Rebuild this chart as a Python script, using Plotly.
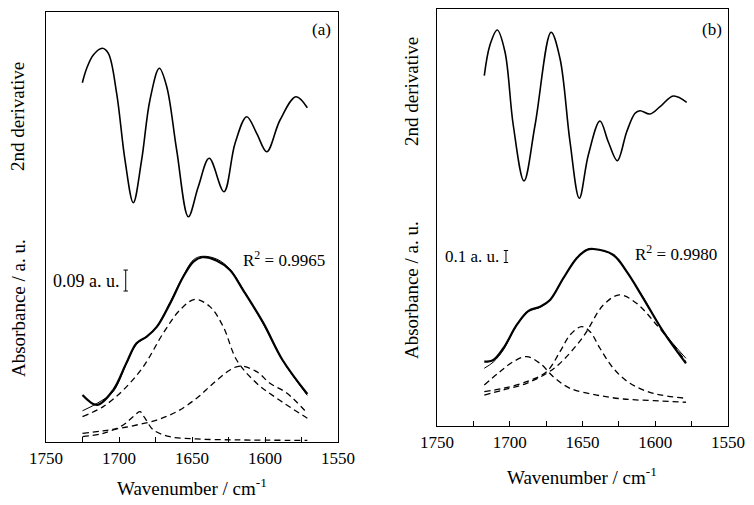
import plotly.graph_objects as go

# ---------------- Panel (a) ----------------
deriv_a_wn = [1725.1, 1722.1, 1717.6, 1711.4, 1707.3, 1701.6, 1695.9, 1690.2, 1684.5, 1678.8,
              1672.4, 1667.3, 1660.5, 1652.5, 1645.7, 1638.2, 1628.1, 1620.5, 1612.5, 1605.7,
              1598.8, 1589.7, 1578.8, 1571.0]
deriv_a = [0.423, 0.567, 0.700, 0.767, 0.717, 0.317, -0.350, -0.777, -0.350, 0.250,
           0.567, 0.383, -0.250, -0.917, -0.617, -0.333, -0.667, -0.183, 0.083, -0.083,
           -0.267, 0.050, 0.283, 0.173]

abs_a_wn = [1725, 1715, 1704, 1695, 1688, 1681, 1674, 1665, 1656, 1649, 1643, 1633, 1624,
            1615, 1601, 1588, 1571]
abs_a_meas = [0.202, 0.159, 0.223, 0.338, 0.424, 0.452, 0.495, 0.595, 0.709, 0.774, 0.793,
              0.778, 0.738, 0.652, 0.509, 0.352, 0.206]
abs_a_fit = [0.134, 0.166, 0.216, 0.335, 0.420, 0.452, 0.497, 0.600, 0.713, 0.782, 0.797,
             0.785, 0.742, 0.655, 0.505, 0.350, 0.200]

comp_a1_wn = [1725, 1710.8, 1697.1, 1683.4, 1669.7, 1658.2, 1648.0, 1637.7, 1628.6, 1619.4,
              1605.7, 1592.0, 1571.0]
comp_a1 = [0.109, 0.152, 0.223, 0.323, 0.467, 0.567, 0.612, 0.581, 0.495, 0.352,
           0.252, 0.188, 0.102]
comp_a2_wn = [1725, 1710.8, 1699.3, 1687.9, 1674.2, 1660.5, 1646.8, 1635.4, 1624.0, 1617.1,
              1605.7, 1596.6, 1585.1, 1571.0]
comp_a2 = [0.037, 0.048, 0.059, 0.073, 0.094, 0.130, 0.188, 0.252, 0.309, 0.326,
           0.302, 0.252, 0.210, 0.123]
comp_a3_wn = [1725, 1710.8, 1697.1, 1690.2, 1685.6, 1682.2, 1676.5, 1665.1, 1646.8, 1619.4, 1571.0]
comp_a3 = [0.023, 0.037, 0.073, 0.109, 0.130, 0.102, 0.052, 0.023, 0.013, 0.009, 0.007]

# ---------------- Panel (b) ----------------
deriv_b_wn = [1717.5, 1713.6, 1708.6, 1703.3, 1697.6, 1690.2, 1682.6, 1671.6, 1665.5, 1658.6,
              1652.2, 1646.0, 1638.0, 1632.3, 1626.1, 1619.6, 1613.9, 1610.5, 1603.6, 1596.7,
              1587.6, 1578.4]
deriv_b = [0.393, 0.700, 0.850, 0.633, -0.100, -0.660, -0.100, 0.827, 0.567, -0.267,
           -0.833, -0.400, -0.060, -0.267, -0.457, -0.167, 0.017, 0.043, 0.010, 0.083,
           0.190, 0.127]

abs_b_wn = [1717.5, 1711.3, 1704.4, 1695.2, 1687.3, 1679.2, 1672.3, 1663.2, 1654.0, 1647.1,
            1642.6, 1628.8, 1619.6, 1608.2, 1594.5, 1578.9]
abs_b_meas = [0.536, 0.550, 0.648, 0.842, 0.958, 0.994, 1.050, 1.231, 1.398, 1.467,
              1.475, 1.425, 1.286, 1.064, 0.786, 0.522]
abs_b_fit = [0.481, 0.533, 0.633, 0.840, 0.955, 0.990, 1.050, 1.232, 1.400, 1.470,
             1.476, 1.424, 1.283, 1.070, 0.790, 0.564]

comp_b1_wn = [1717.5, 1706.7, 1697.6, 1688.4, 1679.2, 1670.1, 1658.6, 1640.2, 1621.9, 1601.3, 1578.9]
comp_b1 = [0.342, 0.453, 0.536, 0.578, 0.522, 0.411, 0.314, 0.258, 0.225, 0.211, 0.198]
comp_b2_wn = [1717.5, 1704.4, 1688.4, 1674.6, 1665.5, 1658.6, 1650.6, 1644.8, 1638.0, 1628.8,
              1617.4, 1601.3, 1578.9]
comp_b2 = [0.286, 0.314, 0.369, 0.453, 0.619, 0.758, 0.828, 0.786, 0.648, 0.481,
           0.356, 0.272, 0.231]
comp_b3_wn = [1717.5, 1704.4, 1688.4, 1674.6, 1665.5, 1649.5, 1635.7, 1624.7, 1612.8, 1599.0,
              1587.6, 1578.9]
comp_b3 = [0.258, 0.300, 0.356, 0.439, 0.522, 0.744, 1.008, 1.092, 1.022, 0.842, 0.675, 0.536]

r2_a = "0.9965"
r2_b = "0.9980"
bar_a = 0.09
bar_b = 0.1
x_ticks = [1750, 1700, 1650, 1600, 1550]

FONT = "'Liberation Serif', 'Times New Roman', Times, serif"
W, H = 754, 505
OFF = 8  # page body margin offset compensation


def px(x):
    return (x - OFF) / W


def py(y):
    return (H - (y - OFF)) / H


fig = go.Figure()


def line(x, y, xa, ya, width, dash=None):
    fig.add_trace(go.Scatter(x=x, y=y, xaxis=xa, yaxis=ya, mode="lines",
                             line=dict(color="black", width=width, dash=dash, shape="spline",
                                       smoothing=1.0),
                             hoverinfo="skip", showlegend=False))


DASH = "6px,4px"
# panel a
line(deriv_a_wn, deriv_a, "x", "y3", 1.6)
line(comp_a1_wn, comp_a1, "x", "y", 1.3, DASH)
line(comp_a2_wn, comp_a2, "x", "y", 1.3, DASH)
line(comp_a3_wn, comp_a3, "x", "y", 1.3, DASH)
line(abs_a_wn, abs_a_fit, "x", "y", 1.0)
line(abs_a_wn, abs_a_meas, "x", "y", 2.2)
# panel b
line(deriv_b_wn, deriv_b, "x2", "y4", 1.6)
line(comp_b1_wn, comp_b1, "x2", "y2", 1.3, DASH)
line(comp_b2_wn, comp_b2, "x2", "y2", 1.3, DASH)
line(comp_b3_wn, comp_b3, "x2", "y2", 1.3, DASH)
line(abs_b_wn, abs_b_fit, "x2", "y2", 1.0)
line(abs_b_wn, abs_b_meas, "x2", "y2", 2.2)


def xax(domain, anchor):
    return dict(domain=domain, anchor=anchor, range=[1750, 1550], automargin=False,
                showline=True, linecolor="black", linewidth=1.4, mirror=True,
                showgrid=False, zeroline=False,
                tickvals=x_ticks, ticks="inside", ticklen=5, tickcolor="black", tickwidth=1,
                tickfont=dict(family=FONT, size=17, color="black"),
                minor=dict(dtick=25, tick0=1550, ticks="inside", ticklen=5,
                           tickcolor="black", tickwidth=1, showgrid=False))


def yframe(domain, anchor, rng):
    return dict(domain=domain, anchor=anchor, range=rng, showline=True, linecolor="black",
                linewidth=1.4, mirror=True, showgrid=False, zeroline=False, automargin=False,
                showticklabels=False, ticks="")


dom_ax = [px(46), px(338)]
dom_ay = [py(442), py(12)]
dom_bx = [px(437), px(728)]
dom_by = [py(426), py(9)]

fig.update_layout(
    width=W, height=H, autosize=False,
    margin=dict(l=0, r=0, t=0, b=0, pad=0, autoexpand=False),
    paper_bgcolor="white", plot_bgcolor="white",
    font=dict(family=FONT, color="black"),
    xaxis=xax(dom_ax, "y"),
    xaxis2=xax(dom_bx, "y2"),
    yaxis=yframe(dom_ay, "x", [0, 430 / 233]),
    yaxis2=yframe(dom_by, "x2", [0, 417 / 120]),
    yaxis3=dict(overlaying="y", anchor="x", range=[-3.17, 1.13], visible=False, automargin=False),
    yaxis4=dict(overlaying="y2", anchor="x2", range=[-3.11, 1.06], visible=False, automargin=False),
)


def scale_bar(xr, yr, xv, y0, length, capw):
    fig.add_shape(type="line", xref=xr, yref=yr, x0=xv, x1=xv, y0=y0, y1=y0 + length,
                  line=dict(color="black", width=1))
    for yy in (y0, y0 + length):
        fig.add_shape(type="line", xref=xr, yref=yr, x0=xv - capw, x1=xv + capw, y0=yy, y1=yy,
                      line=dict(color="black", width=1))


scale_bar("x", "y", 1695.4, 0.648, bar_a, 1.5)
scale_bar("x2", "y2", 1702.6, 1.3625, bar_b, 1.5)


def ann(text, x, y, size=17, angle=0, xanchor="center"):
    fig.add_annotation(text=text, x=px(x), y=py(y), xref="paper", yref="paper",
                       showarrow=False, textangle=angle, xanchor=xanchor, yanchor="middle",
                       font=dict(family=FONT, size=size, color="black"))


ann("(a)", 321, 29)
ann("(b)", 712, 29)
ann("R<sup>2</sup> = " + r2_a, 284, 259)
ann("R<sup>2</sup> = " + r2_b, 676, 253)
ann(f"{bar_a:g} a. u.", 122, 281, size=18, xanchor="right")
ann(f"{bar_b:g} a. u.", 501, 256.5, size=17, xanchor="right")
ann("2nd derivative", 18, 117, size=19, angle=-90)
ann("Absorbance / a. u.", 18, 308, size=19, angle=-90)
ann("2nd derivative", 411, 91, size=19, angle=-90)
ann("Absorbance / a. u.", 411, 290, size=19, angle=-90)
ann("Wavenumber / cm<sup>-1</sup>", 192, 487, size=19)
ann("Wavenumber / cm<sup>-1</sup>", 582, 476, size=19)

fig.write_html("out.html")
